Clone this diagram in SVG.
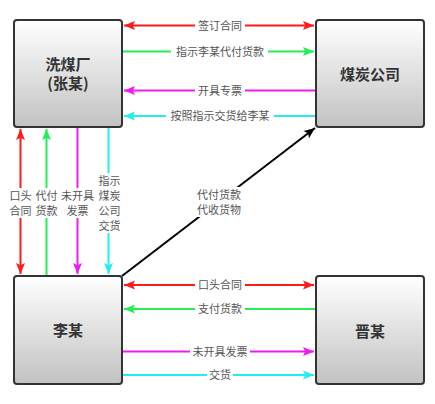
<svg xmlns="http://www.w3.org/2000/svg" width="435" height="404" viewBox="0 0 435 404">
<defs>
<linearGradient id="g" x1="0" y1="0" x2="0" y2="1"><stop offset="0" stop-color="#ffffff"/><stop offset="1" stop-color="#c2c2c2"/></linearGradient>
<marker id="aR" viewBox="0 0 10 10" refX="10" refY="5" markerWidth="11" markerHeight="9" orient="auto-start-reverse" markerUnits="userSpaceOnUse" preserveAspectRatio="none" overflow="visible"><path d="M0,0 L10,5 L0,10 L2,5 Z" fill="#ff1a1a"/></marker>
<marker id="aG" viewBox="0 0 10 10" refX="10" refY="5" markerWidth="11" markerHeight="9" orient="auto-start-reverse" markerUnits="userSpaceOnUse" preserveAspectRatio="none" overflow="visible"><path d="M0,0 L10,5 L0,10 L2,5 Z" fill="#22ee55"/></marker>
<marker id="aM" viewBox="0 0 10 10" refX="10" refY="5" markerWidth="11" markerHeight="9" orient="auto-start-reverse" markerUnits="userSpaceOnUse" preserveAspectRatio="none" overflow="visible"><path d="M0,0 L10,5 L0,10 L2,5 Z" fill="#ee1cee"/></marker>
<marker id="aC" viewBox="0 0 10 10" refX="10" refY="5" markerWidth="11" markerHeight="9" orient="auto-start-reverse" markerUnits="userSpaceOnUse" preserveAspectRatio="none" overflow="visible"><path d="M0,0 L10,5 L0,10 L2,5 Z" fill="#22eeee"/></marker>
<marker id="aK" viewBox="0 0 10 10" refX="10" refY="5" markerWidth="11" markerHeight="9" orient="auto-start-reverse" markerUnits="userSpaceOnUse" preserveAspectRatio="none" overflow="visible"><path d="M0,0 L10,5 L0,10 L2,5 Z" fill="#000"/></marker>
</defs>
<style>
.box{fill:url(#g);stroke:#333;stroke-width:2}
.bt{font-family:"Noto Sans CJK SC","Noto Sans",sans-serif;font-size:15px;font-weight:bold;fill:#333;text-anchor:middle}
.lb{font-family:"Noto Sans CJK SC","Noto Sans",sans-serif;font-size:11px;fill:#555;text-anchor:middle}
.bg{fill:#fff}
line{stroke-width:2;fill:none}
.r{stroke:#ff1a1a}.gr{stroke:#22ee55}.m{stroke:#ee1cee}.c{stroke:#22eeee}.k{stroke:#000}
</style>
<rect width="435" height="404" fill="#fff"/>
<g id="connectors">
<line class="r" x1="124" y1="25.5" x2="314" y2="25.5" marker-start="url(#aR)" marker-end="url(#aR)"/>
<line class="gr" x1="123" y1="51.5" x2="314" y2="51.5" marker-end="url(#aG)"/>
<line class="m" x1="315" y1="90.5" x2="124" y2="90.5" marker-end="url(#aM)"/>
<line class="c" x1="315" y1="116" x2="124" y2="116" marker-end="url(#aC)"/>
<line class="r" x1="20.5" y1="129" x2="20.5" y2="274" marker-start="url(#aR)" marker-end="url(#aR)"/>
<line class="gr" x1="46.5" y1="275" x2="46.5" y2="129" marker-end="url(#aG)"/>
<line class="m" x1="77.5" y1="128" x2="77.5" y2="274" marker-end="url(#aM)"/>
<line class="c" x1="108.5" y1="128" x2="108.5" y2="274" marker-end="url(#aC)"/>
<line class="k" x1="122" y1="276" x2="315" y2="128" marker-end="url(#aK)"/>
<line class="r" x1="124" y1="285" x2="314" y2="285" marker-start="url(#aR)" marker-end="url(#aR)"/>
<line class="gr" x1="315" y1="309" x2="124" y2="309" marker-end="url(#aG)"/>
<line class="m" x1="123" y1="351.5" x2="314" y2="351.5" marker-end="url(#aM)"/>
<line class="c" x1="123" y1="375" x2="314" y2="375" marker-end="url(#aC)"/>
<g id="labels">
<rect class="bg" x="195" y="18" width="50" height="15"/><text class="lb" x="220" y="29.5">签订合同</text>
<rect class="bg" x="171" y="44" width="97" height="15"/><text class="lb" x="220" y="55.5">指示李某代付货款</text>
<rect class="bg" x="195" y="83" width="50" height="15"/><text class="lb" x="220" y="94.5">开具专票</text>
<rect class="bg" x="166" y="108" width="108" height="15"/><text class="lb" x="220" y="119.5">按照指示交货给李某</text>
<rect class="bg" x="8" y="188" width="26" height="30"/><text class="lb" x="20.5" y="200">口头</text><text class="lb" x="20.5" y="215">合同</text>
<rect class="bg" x="35" y="188" width="24" height="30"/><text class="lb" x="46.5" y="200">代付</text><text class="lb" x="46.5" y="215">货款</text>
<rect class="bg" x="60" y="188" width="35" height="30"/><text class="lb" x="77.5" y="200">未开具</text><text class="lb" x="77.5" y="215">发票</text>
<rect class="bg" x="97" y="173" width="24" height="60"/><text class="lb" x="109.5" y="185">指示</text><text class="lb" x="109.5" y="200">煤炭</text><text class="lb" x="109.5" y="215">公司</text><text class="lb" x="109.5" y="230">交货</text>
<rect class="bg" x="193" y="187" width="52" height="30"/><text class="lb" x="219" y="199">代付货款</text><text class="lb" x="219" y="214">代收货物</text>
<rect class="bg" x="195" y="278" width="50" height="15"/><text class="lb" x="220" y="289">口头合同</text>
<rect class="bg" x="195" y="302" width="50" height="15"/><text class="lb" x="220" y="313">支付货款</text>
<rect class="bg" x="190" y="344" width="60" height="15"/><text class="lb" x="220" y="355.5">未开具发票</text>
<rect class="bg" x="207" y="368" width="26" height="15"/><text class="lb" x="220" y="379">交货</text>
</g>
</g>
<g id="xmc"><rect class="box" x="14" y="20" width="108" height="107" rx="3"/><text class="bt" x="68" y="70">洗煤厂</text><text class="bt" x="68" y="89">(张某)</text></g>
<g id="mtgs"><rect class="box" x="316" y="20" width="108" height="107" rx="3"/><text class="bt" x="370" y="80">煤炭公司</text></g>
<g id="lm"><rect class="box" x="14" y="276" width="108" height="108" rx="3"/><text class="bt" x="68" y="336">李某</text></g>
<g id="jm"><rect class="box" x="316" y="276" width="108" height="108" rx="3"/><text class="bt" x="370" y="337">晋某</text></g>
</svg>
